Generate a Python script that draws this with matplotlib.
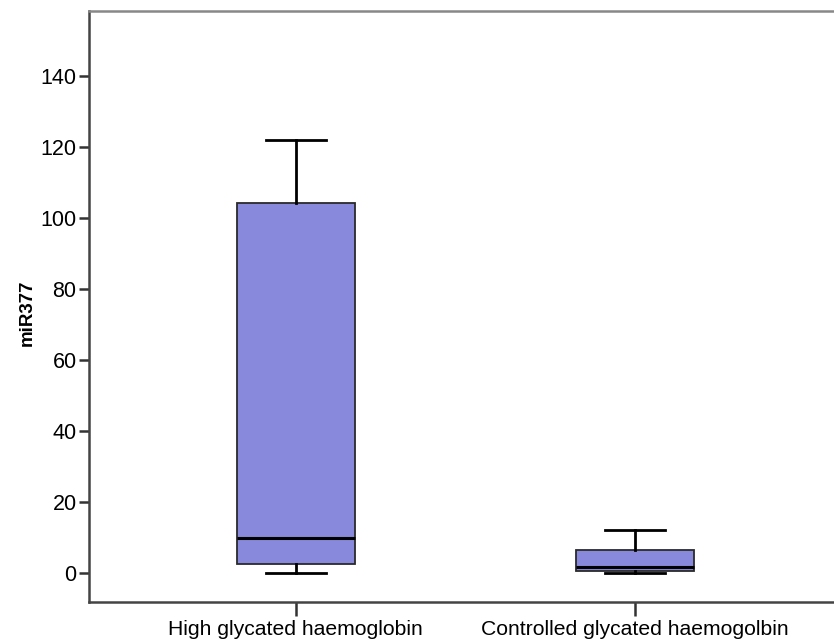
import matplotlib
matplotlib.use("Agg")
import matplotlib.pyplot as plt

plt.rcParams['font.family'] = ['Liberation Sans', 'DejaVu Sans']

# Summary statistics for each group (whisker low, Q1, median, Q3, whisker high)
groups = ["High glycated haemoglobin", "Controlled glycated haemogolbin"]
whisker_low = [0.0, 0.0]
q1 = [2.5, 0.5]
median = [9.9, 1.7]
q3 = [104.3, 6.5]
whisker_high = [122.0, 12.1]
y_ticks = [0, 20, 40, 60, 80, 100, 120, 140]

stats = []
for g, lo, a, m, b, hi in zip(groups, whisker_low, q1, median, q3, whisker_high):
    stats.append(dict(label=g, whislo=lo, q1=a, med=m, q3=b, whishi=hi, fliers=[]))

fig = plt.figure(figsize=(8.34, 6.42), dpi=100)
ax = fig.add_axes([89 / 834, 40 / 642, 1 - 89 / 834, (602 - 11) / 642])

ax.bxp(stats, positions=[1, 2], widths=0.35, patch_artist=True, showfliers=False,
       boxprops=dict(facecolor='#8888dd', edgecolor='#2a2a2a', linewidth=1.3),
       medianprops=dict(color='black', linewidth=2.2),
       whiskerprops=dict(color='black', linewidth=2.0),
       capprops=dict(color='black', linewidth=2.0),
       capwidths=0.175)

ax.set_xlim(0.39, 2.587)
ax.set_ylim(-8.2, 158.3)
ax.set_yticks(y_ticks)
ax.set_xticks([1, 2])
ax.set_xticklabels(groups)

for side in ['top', 'left', 'bottom']:
    ax.spines[side].set_color('#444444')
    ax.spines[side].set_linewidth(1.8)
ax.spines['top'].set_color('#888888')
ax.spines['right'].set_visible(False)

ax.tick_params(axis='y', length=7, width=1.8, color='#333333', labelsize=15.5, pad=2)
ax.tick_params(axis='x', length=10, width=1.8, color='#333333', labelsize=15.2, pad=3)

ax.set_ylabel("miR377", fontsize=13.5, fontweight='bold')
ax.yaxis.set_label_coords(-0.071, 0.49)

fig.savefig("out.png", dpi=100)
